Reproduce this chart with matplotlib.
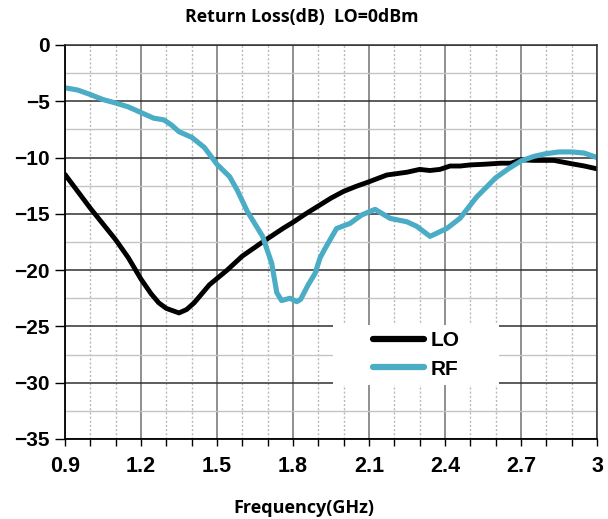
import matplotlib
matplotlib.use("Agg")
import matplotlib.pyplot as plt
from matplotlib.ticker import MultipleLocator, FixedLocator
from matplotlib.patches import Rectangle

lo_freq = [0.90, 0.95, 1.00, 1.05, 1.10, 1.15, 1.20, 1.24, 1.27, 1.30, 1.35, 1.38, 1.41, 1.47,
           1.54, 1.60, 1.68, 1.76, 1.80, 1.85, 1.90, 1.95, 2.00, 2.05, 2.10, 2.17, 2.25,
           2.30, 2.34, 2.38, 2.42, 2.46, 2.50, 2.55, 2.62, 2.66, 2.70, 2.75, 2.80, 2.83,
           2.90, 2.95, 3.00]
lo_db = [-11.5, -13.0, -14.5, -15.9, -17.3, -18.9, -20.8, -22.1, -22.9, -23.4, -23.8, -23.5, -22.9, -21.3,
         -20.0, -18.75, -17.5, -16.3, -15.75, -15.0, -14.3, -13.6, -13.0, -12.55, -12.15, -11.55, -11.3,
         -11.05, -11.15, -11.05, -10.75, -10.75, -10.65, -10.6, -10.5, -10.5, -10.2, -10.25, -10.25, -10.25,
         -10.55, -10.75, -11.0]

rf_freq = [0.90, 0.95, 1.00, 1.05, 1.10, 1.15, 1.20, 1.25, 1.29, 1.32, 1.35, 1.40, 1.45, 1.48,
           1.50, 1.55, 1.58, 1.62, 1.68, 1.716, 1.736, 1.755, 1.788, 1.815, 1.83, 1.86, 1.887, 1.907,
           1.926, 1.972, 2.025, 2.071, 2.124, 2.183, 2.249, 2.288, 2.341, 2.407, 2.459,
           2.525, 2.60, 2.65, 2.70, 2.75, 2.80, 2.85, 2.90, 2.95, 3.00]
rf_db = [-3.8, -4.0, -4.4, -4.85, -5.15, -5.5, -6.0, -6.5, -6.65, -7.1, -7.7, -8.2, -9.1, -10.0,
         -10.6, -11.7, -12.9, -14.8, -17.0, -19.4, -22.0, -22.7, -22.5, -22.8, -22.6, -21.3, -20.3, -18.9,
         -18.1, -16.3, -15.85, -15.1, -14.6, -15.4, -15.7, -16.1, -17.0, -16.3, -15.4,
         -13.5, -11.8, -11.0, -10.3, -9.9, -9.65, -9.5, -9.5, -9.6, -10.0]

x_ticks = [0.9, 1.2, 1.5, 1.8, 2.1, 2.4, 2.7, 3.0]
x_tick_labels = ["0.9", "1.2", "1.5", "1.8", "2.1", "2.4", "2.7", "3"]
y_ticks = [0, -5, -10, -15, -20, -25, -30, -35]

fig = plt.figure(figsize=(6.08, 5.19), dpi=100)
ax = fig.add_axes([65/608, 1-439/519, (597-65)/608, (439-45)/519])

ax.set_xlim(0.9, 3.0)
ax.set_ylim(-35, 0)

ax.set_xticks(x_ticks)
ax.set_xticklabels(x_tick_labels)
minor_x = [round(0.9 + 0.1*i, 2) for i in range(22)]
ax.xaxis.set_minor_locator(FixedLocator(minor_x))
ax.set_yticks(y_ticks)
ax.yaxis.set_minor_locator(MultipleLocator(2.5))

ax.grid(which="major", axis="x", color="#707070", linewidth=1.1)
ax.grid(which="minor", axis="x", color="#b8b8b8", linewidth=1.0, linestyle=(0, (1.5, 1.5)))
ax.grid(which="major", axis="y", color="#303030", linewidth=1.1)
ax.grid(which="minor", axis="y", color="#c4c4c4", linewidth=1.0)
ax.set_axisbelow(True)

ax.tick_params(axis="x", which="both", direction="out", length=5, width=1, color="black", pad=7)
ax.tick_params(axis="y", which="major", direction="out", length=7, width=1, color="black", pad=4)
ax.tick_params(axis="y", which="minor", length=0)

for lab in ax.get_xticklabels():
    lab.set_fontfamily("Liberation Sans")
    lab.set_fontweight("bold")
    lab.set_fontsize(15.5)
for lab in ax.get_yticklabels():
    lab.set_fontfamily("Liberation Sans")
    lab.set_fontweight("bold")
    lab.set_fontsize(15)

for s in ["left", "bottom"]:
    ax.spines[s].set_color("black")
    ax.spines[s].set_linewidth(1.3)
for s in ["top", "right"]:
    ax.spines[s].set_color("#303030")
    ax.spines[s].set_linewidth(1.1)

ax.plot(lo_freq, lo_db, color="black", linewidth=3.5, label="LO",
        solid_capstyle="round", solid_joinstyle="round")
ax.plot(rf_freq, rf_db, color="#4BACC6", linewidth=3.7, label="RF",
        solid_capstyle="round", solid_joinstyle="round")

# legend background box
ax.add_patch(Rectangle((0.5038, 0.137), 0.312, 0.1523, transform=ax.transAxes,
                       facecolor="white", edgecolor="none", zorder=2.5))

leg = ax.legend(loc="center", bbox_to_anchor=(0.6607, 0.213), frameon=False,
                prop={"family": "Liberation Sans", "weight": "bold", "size": 15},
                handlelength=2.45, handletextpad=0.3, borderpad=0.2, labelspacing=0.45,
                borderaxespad=0)
leg.set_zorder(3)
for line in leg.get_lines():
    line.set_linewidth(4.5)

fig.text(302/608, 1-17/519, "Return Loss(dB)  LO=0dBm", ha="center", va="center",
         fontfamily="Open Sans", fontweight="bold", fontsize=12.8)
fig.text(304/608, 1-508/519, "Frequency(GHz)", ha="center", va="center",
         fontfamily="Open Sans", fontweight="bold", fontsize=13)

fig.savefig("out.png", dpi=100, facecolor="white")
